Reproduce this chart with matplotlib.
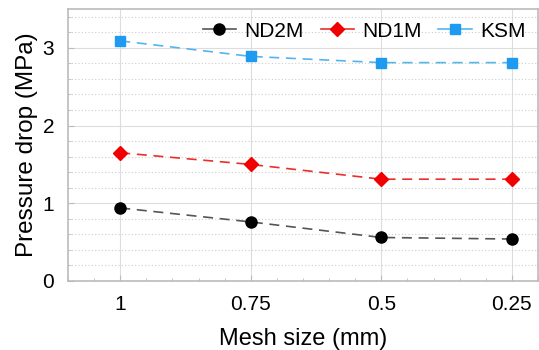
import matplotlib
matplotlib.use("Agg")
import matplotlib.pyplot as plt
from matplotlib.ticker import MultipleLocator

plt.rcParams["font.family"] = ["Liberation Sans", "DejaVu Sans"]

mesh = [1, 0.75, 0.5, 0.25]
nd2m = [0.94, 0.76, 0.56, 0.54]
nd1m = [1.65, 1.50, 1.31, 1.31]
ksm = [3.09, 2.89, 2.81, 2.81]

fig = plt.figure(figsize=(5.39, 3.5), dpi=100)
ax = fig.add_axes([68 / 539, 1 - 281 / 350, (538 - 68) / 539, (281 - 9) / 350])

ax.plot(mesh, nd2m, ls=(0, (6, 4)), color="#555555", lw=1.2,
        marker="o", ms=8, mfc="black", mec="black", label="ND2M")
ax.plot(mesh, nd1m, ls=(0, (6, 4)), color="#e8302a", lw=1.2,
        marker="D", ms=7, mfc="#f00000", mec="#f00000", label="ND1M")
ax.plot(mesh, ksm, ls=(0, (6, 4)), color="#55b4ec", lw=1.2,
        marker="s", ms=7, mfc="#1e9bf0", mec="#1e9bf0", label="KSM")

ax.set_xlim(1.1, 0.2)
ax.set_ylim(0, 3.5)
ax.set_xticks(mesh)
ax.set_xticklabels(["1", "0.75", "0.5", "0.25"])
ax.set_yticks([0, 1, 2, 3])
ax.xaxis.set_minor_locator(MultipleLocator(0.05))
ax.yaxis.set_minor_locator(MultipleLocator(0.2))

ax.grid(which="major", color="#dddddd", lw=0.8)
ax.grid(which="minor", axis="y", color="#cccccc", lw=0.8, ls=(0, (1, 2)))
ax.set_axisbelow(True)
for s in ax.spines.values():
    s.set_color("#bbbbbb")
    s.set_linewidth(1.2)
ax.tick_params(which="both", direction="in", colors="#bbbbbb", labelcolor="black",
               labelsize=15, top=False, right=False)
ax.tick_params(which="major", length=4, pad=10)
ax.tick_params(which="minor", length=2.5)

ax.set_xlabel("Mesh size (mm)", fontsize=17, labelpad=10)
ax.set_ylabel("Pressure drop (MPa)", fontsize=17.5, labelpad=3)

leg = ax.legend(loc="upper right", ncol=3, frameon=False, fontsize=15,
                handlelength=1.6, handletextpad=0.4, columnspacing=0.8,
                borderaxespad=0.2)
for line in leg.get_lines():
    line.set_linestyle("-")

fig.savefig("out.png", dpi=100)
